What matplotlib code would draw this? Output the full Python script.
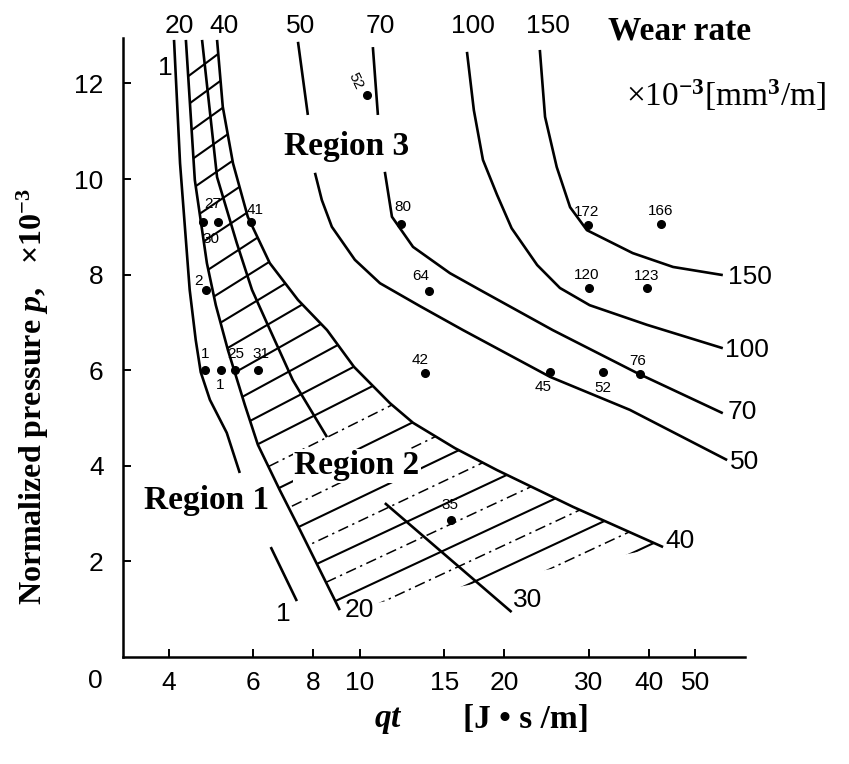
import numpy as np
import matplotlib
matplotlib.use("Agg")
import matplotlib.pyplot as plt
from matplotlib.patches import Polygon

plt.rcParams.update({
    'mathtext.fontset': 'custom',
    'mathtext.rm': 'Liberation Serif:bold',
    'mathtext.it': 'Liberation Serif:italic:bold',
    'mathtext.bf': 'Liberation Serif:bold',
})

SERIF = ['Liberation Serif', 'DejaVu Serif']
SANS = ['Liberation Sans', 'DejaVu Sans']

# wear-rate contours: qt [J s/m] vs p (x1e-3), nan = gap
c1_qt = [4.10, 4.22, 4.42, 4.55, 4.66, 4.87, 5.28, 5.62, np.nan, 6.52, 7.39]
c1_p = [12.91, 10.33, 7.68, 6.63, 5.96, 5.38, 4.69, 3.85, np.nan, 2.30, 1.17]

c20_qt = [4.34, 4.53, 4.80, 5.01, 5.31, 5.76, 6.13, 6.81, 7.50, 9.08]
c20_p = [12.91, 9.98, 8.24, 7.36, 6.42, 5.27, 4.44, 3.49, 2.66, 0.98]

c30_qt = [4.69, 5.04, 5.54, 5.96, 6.40, 7.25, 8.54, np.nan, 11.27, 20.7]
c30_p = [12.91, 10.04, 8.66, 7.68, 6.99, 5.79, 4.60, np.nan, 3.22, 0.94]

c40_qt = [5.04, 5.18, 5.44, 5.84, 6.49, 7.43, 8.54, 9.72, 11.55, 12.90, 15.77, 19.30, 27.8, 42.8]
c40_p = [12.91, 11.51, 10.33, 9.21, 8.24, 7.47, 6.84, 6.07, 5.31, 4.90, 4.37, 3.91, 3.14, 2.30]

c50_qt = [7.43, 7.79, np.nan, 8.06, 8.33, 8.74, 9.76, 11.01, 13.34, 16.39, 24.9, 36.5, 58.2]
c50_p = [12.87, 11.34, np.nan, 10.13, 9.56, 9.00, 8.31, 7.82, 7.34, 6.84, 5.86, 5.17, 4.12]

c70_qt = [10.64, 10.90, np.nan, 11.27, 11.66, 12.90, 15.40, 17.78, 25.2, 37.8, 57.0]
c70_p = [12.76, 11.34, np.nan, 10.15, 9.21, 8.58, 8.03, 7.68, 6.84, 5.94, 5.10]

c100_qt = [16.71, 17.27, 18.04, 19.30, 20.7, 23.4, 26.1, 30.1, 39.6, 57.0]
c100_p = [12.66, 11.44, 10.40, 9.67, 8.97, 8.20, 7.72, 7.36, 6.95, 6.46]

c150_qt = [23.7, 24.3, 25.7, 27.4, 29.7, 37.0, 44.9, 57.0]
c150_p = [12.70, 11.30, 10.25, 9.41, 8.93, 8.45, 8.16, 7.99]

# measured wear rates (x1e-3 mm^3/m)
pt_qt = [4.71, 5.06, 5.93, 4.78, 4.76, 5.13, 5.49, 6.13, 10.34, 13.9, 13.65,
         24.9, 32.1, 38.3, 30.0, 39.6, 29.8, 42.4, 12.2, 15.5]
pt_p = [9.10, 9.10, 9.10, 7.68, 6.0, 6.0, 6.0, 6.0, 11.76, 7.66, 5.94,
        5.96, 5.96, 5.92, 7.72, 7.72, 9.04, 9.06, 9.06, 2.87]
pt_wear = ['30', '27', '41', '2', '1', '1', '25', '31', '52', '64', '42',
           '45', '52', '76', '120', '123', '172', '166', '80', '35']

x_ticks = [4, 6, 8, 10, 15, 20, 30, 40, 50]
y_ticks = [2, 4, 6, 8, 10, 12]

fig = plt.figure(figsize=(8.49, 7.64), dpi=100)
W, H = 849, 764
ax = fig.add_axes((123 / W, 107 / H, 622 / W, 619 / H))
ax.set_xscale('log')
ax.set_xlim(3.21, 63.4)
ax.set_ylim(0, 12.95)
for side in ('top', 'right'):
    ax.spines[side].set_visible(False)
for side in ('left', 'bottom'):
    ax.spines[side].set_linewidth(1.8)
ax.set_xticks(x_ticks, [str(t) for t in x_ticks])
ax.xaxis.set_minor_locator(plt.NullLocator())
ax.set_yticks(y_ticks, [str(t) for t in y_ticks])
ax.tick_params(direction='in', length=6, width=1.4, labelsize=19)
ax.tick_params(axis='x', pad=10)
ax.tick_params(axis='y', pad=14)
for lab in ax.get_xticklabels() + ax.get_yticklabels():
    lab.set_fontfamily(SANS)
ax.annotate('0', xy=(0, 0), xycoords='axes fraction', xytext=(-28, -24),
            textcoords='offset pixels', ha='center', va='center',
            fontsize=19, family=SANS)

contours = [(c1_qt, c1_p), (c20_qt, c20_p), (c30_qt, c30_p), (c40_qt, c40_p),
            (c50_qt, c50_p), (c70_qt, c70_p), (c100_qt, c100_p), (c150_qt, c150_p)]
for qt, p in contours:
    ax.plot(qt, p, color='k', lw=1.9, solid_capstyle='butt')

# hatching of region 2: rungs from the 40 contour down-left to the 20 contour
band = Polygon(np.column_stack([c20_qt + c40_qt[::-1], c20_p + c40_p[::-1]]),
               closed=True, fc='none', ec='none', transform=ax.transData)
ax.add_patch(band)
P = ax.transData.transform(np.column_stack([c40_qt, c40_p]))
s = np.concatenate([[0], np.cumsum(np.hypot(*np.diff(P, axis=0).T))])
inv = ax.transData.inverted()
for k, sk in enumerate(np.arange(14, s[-1] - 4, 27.0)):
    e = np.array([np.interp(sk, s, P[:, 0]), np.interp(sk, s, P[:, 1])])
    top_px = H - e[1]
    th = np.radians(np.interp(top_px, [40, 240, 380, 480], [37, 33, 27, 25]))
    d = np.array([np.cos(th), np.sin(th)])
    (xa, ya), (xb, yb) = inv.transform([e + 6 * d, e - 700 * d])
    dashed = top_px > 400 and k % 2 == 1
    ln, = ax.plot([xa, xb], [ya, yb], color='k',
                  lw=1.1 if dashed else 1.5,
                  ls=(0, (7, 3, 1.5, 3)) if dashed else '-')
    ln.set_clip_path(band)

# data points and their wear-rate numbers
label_off = [(8, -17), (-5, 18), (4, 12), (-8, 9), (0, 16), (-1, -15), (1, 16), (3, 16),
             (-11, 14), (-8, 15), (-5, 13), (-7, -15), (0, -16), (-2, 13), (-2, 13),
             (0, 12), (-1, 13), (0, 13), (1, 17), (-1, 15)]
ax.plot(pt_qt, pt_p, 'o', color='k', ms=5.5, clip_on=False)
for i, (x, y, w) in enumerate(zip(pt_qt, pt_p, pt_wear)):
    ax.annotate(w, xy=(x, y), xytext=label_off[i], textcoords='offset pixels',
                ha='center', va='center', fontsize=11, family=SANS,
                rotation=-65 if i == 8 else 0)

# contour values at the line ends
def end_label(txt, qt, p, idx, off, ha='left'):
    ax.annotate(txt, xy=(qt[idx], p[idx]), xytext=off, textcoords='offset pixels',
                ha=ha, va='center', fontsize=19, family=SANS, annotation_clip=False)

end_label('1', c1_qt, c1_p, -1, (-14, -13), ha='center')
end_label('20', c20_qt, c20_p, -1, (5, 0))
end_label('30', c30_qt, c30_p, -1, (1, 12))
end_label('40', c40_qt, c40_p, -1, (2, 6))
end_label('50', c50_qt, c50_p, -1, (3, -2))
end_label('70', c70_qt, c70_p, -1, (5, 1))
end_label('100', c100_qt, c100_p, -1, (2, -2))
end_label('150', c150_qt, c150_p, -1, (5, -2))
end_label('1', c1_qt, c1_p, 0, (-9, -28), ha='center')
end_label('20', c20_qt, c20_p, 0, (-7, 14), ha='center')
end_label('40', c40_qt, c40_p, 0, (7, 14), ha='center')
end_label('50', c50_qt, c50_p, 0, (3, 16), ha='center')
end_label('70', c70_qt, c70_p, 0, (7, 21), ha='center')
end_label('100', c100_qt, c100_p, 0, (6, 26), ha='center')
end_label('150', c150_qt, c150_p, 0, (8, 24), ha='center')

region_kw = dict(ha='center', va='center', fontsize=24, fontweight='bold', family=SERIF)
ax.text(4.80, 3.28, 'Region 1', **region_kw)
ax.text(9.86, 4.0, 'Region 2', bbox=dict(fc='white', ec='none', pad=1), **region_kw)
ax.text(9.39, 10.67, 'Region 3', **region_kw)

fig.text(680 / W, 1 - 31 / H, 'Wear rate', ha='center', va='center',
         fontsize=24, fontweight='bold', family=SERIF)
fig.text(726 / W, 1 - 95 / H, '×10$^{-3}$[mm$^3$/m]', ha='center', va='center',
         fontsize=24, family=SERIF)
fig.text(33 / W, 1 - 397 / H, 'Normalized pressure $p$,   ×10$^{-3}$', rotation=90,
         ha='center', va='center', fontsize=23, fontweight='bold', family=SERIF)
fig.text(388 / W, 1 - 720 / H, '$qt$', ha='center', va='center', fontsize=24)
fig.text(526 / W, 1 - 720 / H, '[J • s /m]', ha='center', va='center',
         fontsize=24, fontweight='bold', family=SERIF)

fig.savefig('out.png', dpi=100)
